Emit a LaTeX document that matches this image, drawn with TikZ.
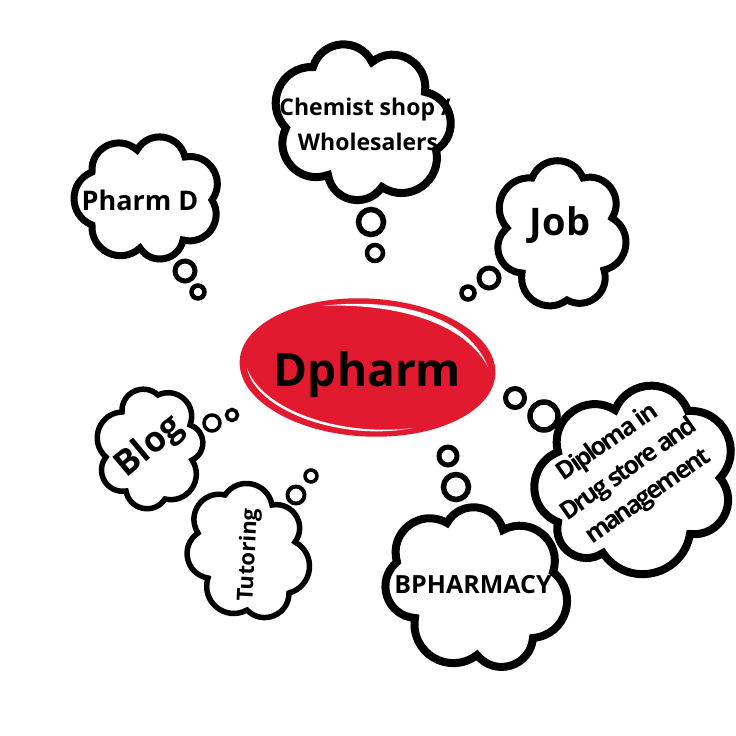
\documentclass[tikz,border=0pt]{standalone}
\usepackage{fontspec}
\setmainfont{Open Sans}
\usetikzlibrary{shapes.geometric}
\definecolor{pillred}{HTML}{E21A2F}
\tikzset{
  cloudline/.style={draw=black,line width=#1,line join=miter,miter limit=3,every to/.style={bend left=68,looseness=1.25}},
  cloudline/.default=7pt,
  bubble/.style={draw=black,line width=#1},
  bubble/.default=4.5pt,
  lbl/.style={font=\bfseries\fontsize{#1}{#1}\selectfont,text=black,inner sep=0pt,align=center},
}
\begin{document}
\begin{tikzpicture}[x=1pt,y=-1pt]
\useasboundingbox (0,0) rectangle (736,736);
% central pill
\node[ellipse,fill=pillred,minimum width=256pt,minimum height=138pt,inner sep=0pt,rotate=-3] (pill) at (367.5,367.5) {};
\fill[white] (322,306) .. controls (385,298) and (465,310) .. (488,367) .. controls (462,318) and (385,303) .. (322,306) -- cycle;
\fill[white] (247,368) .. controls (255,410) and (340,442) .. (413,428) .. controls (340,437) and (262,410) .. (247,368) -- cycle;
\node[lbl=46] (dp) at (367.5,375) {Dpharm};
% clouds
\draw[cloudline=8pt] (313,67) to (372,62) to (425,92) to (436,150) to (382,187) to (328,175) to (286,128) to (313,67) -- cycle;
\draw[cloudline] (137,150) to (185,157) to (212,200) to (183,240) to (140,248) to (92,225) to (92,172) to (137,150) -- cycle;
\draw[cloudline] (532,178) to (583,178) to (612,218) to (604,270) to (567,300) to (522,273) to (507,228) to (532,178) -- cycle;
\draw[cloudline=8pt] (615,410) to (688,411) to (720,478) to (690,534) to (603,553) to (558,522) to (558,452) to (615,410) -- cycle;
\draw[cloudline=8pt] (447,523) to (503,530) to (553,572) to (533,638) to (477,655) to (415,618) to (397,562) to (447,523) -- cycle;
\draw[cloudline=5.5pt] (122,412) to (158,395) to (190,425) to (192,460) to (165,499) to (126,491) to (106,457) to (122,412) -- cycle;
\draw[cloudline=5.5pt] (225,495) to (272,505) to (295,542) to (289,593) to (247,610) to (208,578) to (198,533) to (225,495) -- cycle;
% thought bubbles
\draw[bubble=5.5pt] (371,222) circle (12.5);
\draw[bubble] (375,253) circle (8);
\draw[bubble=5pt] (185,271) circle (10);
\draw[bubble] (198,292) circle (6.5);
\draw[bubble=5pt] (489,278) circle (10);
\draw[bubble] (468,293) circle (6.5);
\draw[bubble=5pt] (515,398) circle (9.5);
\draw[bubble=5.5pt] (544,416) circle (14);
\draw[bubble=5pt] (448,456) circle (9);
\draw[bubble=5.5pt] (456,487) circle (12.5);
\draw[bubble=3.5pt] (212,423) circle (8);
\draw[bubble=3.5pt] (232,415) circle (5.5);
\draw[bubble=4pt] (296,495) circle (8.5);
\draw[bubble=3.5pt] (311,476) circle (6);
% labels
\node[lbl=23] (che) at (365,110) {Chemist shop /};
\node[lbl=23] (who) at (368,142) {Wholesalers};
\node[lbl=27] (pha) at (140,200) {Pharm D};
\node[lbl=38] (job) at (560,225) {Job};
\node[lbl=25] (bph) at (473,585) {BPHARMACY};
\node[lbl=35,rotate=40] (blo) at (150,447) {Blog};
\node[lbl=22,rotate=87] (tut) at (249,555) {Tutoring};
\node[lbl=25,rotate=35] (dip) at (608,443) {\addfontfeature{LetterSpace=-9}Diploma in};
\node[lbl=25,rotate=35] (dru) at (629,470) {\addfontfeature{LetterSpace=-9}Drug store and};
\node[lbl=25,rotate=35] (man) at (649,498) {\addfontfeature{LetterSpace=-9}management};
\end{tikzpicture}
\end{document}
